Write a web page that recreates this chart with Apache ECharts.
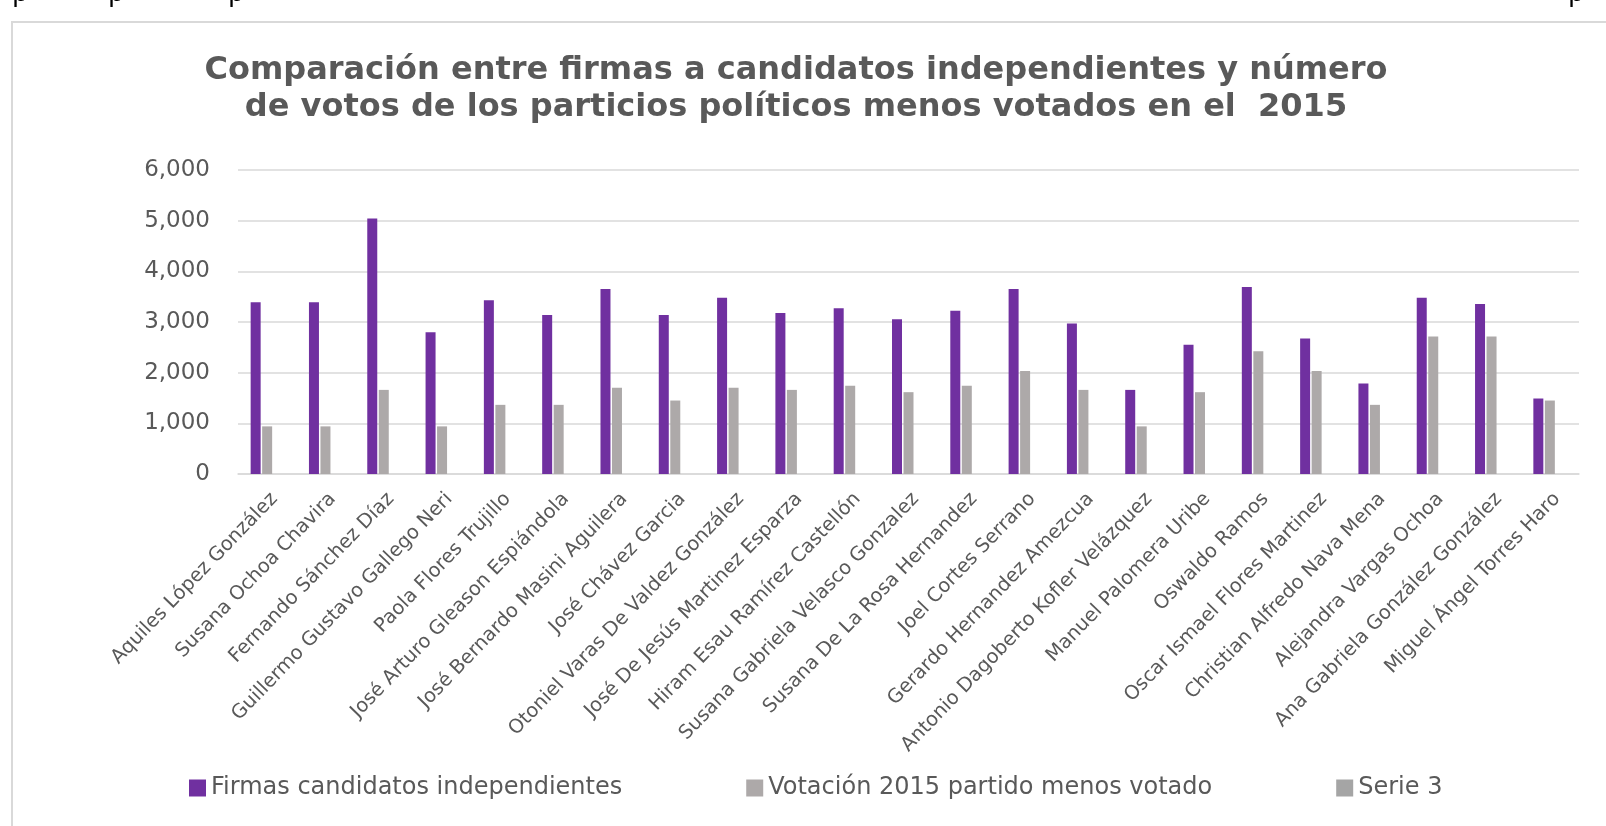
<!DOCTYPE html>
<html>
<head>
<meta charset="utf-8">
<script src="https://cdn.jsdelivr.net/npm/echarts@6/dist/echarts.min.js"></script>
<style>
html,body{margin:0;padding:0;background:#fff;}
#chart{width:1606px;height:826px;}
</style>
</head>
<body>
<div id="chart"></div>
<script>
const titleText = 'Comparación entre firmas a candidatos independientes y número\nde votos de los particios políticos menos votados en el  2015';
const categories = [
  'Aquiles López González','Susana Ochoa Chavira','Fernando Sánchez Díaz','Guillermo Gustavo Gallego Neri',
  'Paola Flores Trujillo','José Arturo Gleason Espiándola','José Bernardo Masini Aguilera','José Chávez Garcia',
  'Otoniel Varas De Valdez González','José De Jesús Martinez Esparza','Hiram Esau Ramírez Castellón',
  'Susana Gabriela Velasco Gonzalez','Susana De La Rosa Hernandez','Joel Cortes Serrano',
  'Gerardo Hernandez Amezcua','Antonio Dagoberto Kofler Velázquez','Manuel Palomera Uribe','Oswaldo Ramos',
  'Oscar Ismael Flores Martinez','Christian Alfredo Nava Mena','Alejandra Vargas Ochoa',
  'Ana Gabriela González González','Miguel Ángel Torres Haro'
];
const seriesNames = ['Firmas candidatos independientes','Votación 2015 partido menos votado','Serie 3'];
const firmas = [3390,3390,5045,2800,3430,3140,3650,3140,3480,3180,3270,3055,3220,3650,2970,1660,2550,3690,2675,1785,3480,3355,1490];
const votacion = [940,940,1660,940,1365,1365,1700,1450,1700,1660,1740,1615,1740,2035,1660,940,1615,2425,2035,1365,2715,2715,1450];
const serie3 = [];
const yTicks = [0,1000,2000,3000,4000,5000,6000];

const chart = echarts.init(document.getElementById('chart'));
const txt = '#595959';
const font = 'DejaVu Sans';
const frag = x => ({type:'text', left:x, top:-19, silent:true,
  style:{text:'p', fill:'#000', font:'26px "DejaVu Sans"'}});
chart.setOption({
  animation:false,
  backgroundColor:'#fff',
  title:{
    text:titleText, left:791, textAlign:'center', top:47,
    textStyle:{fontFamily:font,fontWeight:'bold',fontSize:32,color:txt,lineHeight:37}
  },
  graphic:[{
    type:'rect', shape:{x:12,y:22,width:1640,height:840},
    style:{fill:'none',stroke:'#d9d9d9',lineWidth:2}, silent:true, z:-1
  }, frag(12), frag(108), frag(228), frag(1568)],
  legend:{
    bottom:21, left:184, itemWidth:17, itemHeight:17, itemGap:124, icon:'rect',
    textStyle:{fontFamily:font,fontSize:24,color:txt},
    data:seriesNames
  },
  grid:{left:238,right:27,top:170,bottom:352,containLabel:false},
  xAxis:{
    type:'category', data:categories,
    axisLine:{lineStyle:{color:'#d9d9d9',width:1.5}},
    axisTick:{show:false},
    axisLabel:{interval:0,rotate:46,fontFamily:font,fontSize:19.5,color:txt,margin:15,verticalAlign:'top'}
  },
  yAxis:{
    type:'value', min:yTicks[0], max:yTicks[yTicks.length-1], interval:1000,
    axisLine:{show:false}, axisTick:{show:false},
    splitLine:{lineStyle:{color:'#d9d9d9',width:1.5}},
    axisLabel:{fontFamily:font,fontSize:23,color:txt,margin:28,
      formatter:v=>v.toLocaleString('en-US')}
  },
  series:[
    {name:seriesNames[0],type:'bar',data:firmas,barWidth:10,barGap:'15%',itemStyle:{color:'#7030A0'}},
    {name:seriesNames[1],type:'bar',data:votacion,barWidth:10,barGap:'15%',itemStyle:{color:'#ADA9A9'}},
    {name:seriesNames[2],type:'bar',data:serie3,barWidth:10,barGap:'15%',itemStyle:{color:'#A5A5A5'}}
  ]
});
</script>
</body>
</html>
